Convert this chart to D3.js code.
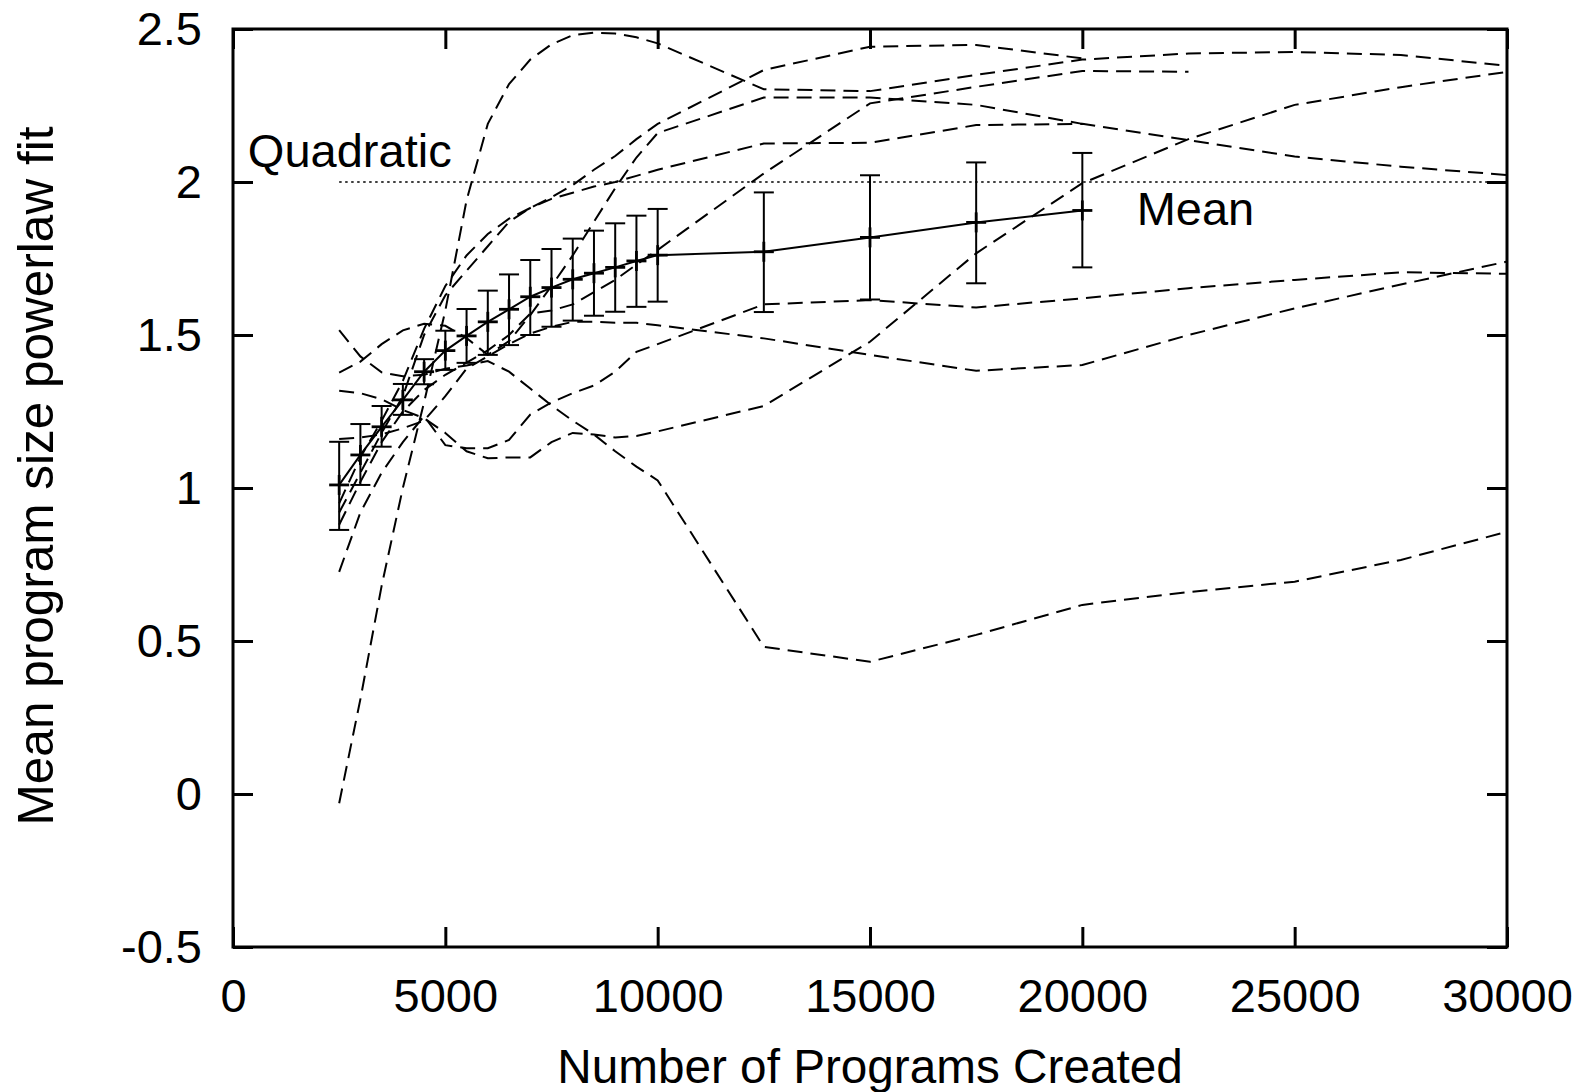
<!DOCTYPE html>
<html>
<head>
<meta charset="utf-8">
<script src="https://d3js.org/d3.v7.min.js"></script>
<style>
body { margin: 0; background: #fff; }
svg text { font-family: "Liberation Sans", Arial, Helvetica, sans-serif; font-size: 47px; fill: #000; }
.run { fill: none; stroke: #000; stroke-width: 2px; stroke-dasharray: 15,8; }
.meanline { fill: none; stroke: #000; stroke-width: 2px; }
.err { stroke: #000; stroke-width: 2px; }
.tick line { stroke: #000; stroke-width: 3px; }
</style>
</head>
<body>
<svg width="1583" height="1092"></svg>
<script>
// x positions (programs created) shared by every run
const xPts = [2500, 3000, 3500, 4000, 4500, 5000, 5500, 6000, 6500, 7000, 7500, 8000,
              8500, 9000, 9500, 10000, 12500, 15000, 17500, 20000, 22500, 25000, 27500, 30000];

// individual runs (dashed)
const runP = [-0.03, 0.31, 0.68, 1.00, 1.28, 1.58, 1.94, 2.19, 2.32, 2.40, 2.45, 2.48,
              2.488, 2.485, 2.473, 2.453, 2.303, 2.297, 2.35, 2.40, 2.42, 2.425, 2.415, 2.38];
const runU = [0.92, 1.05, 1.18, 1.30, 1.50, 1.63, 1.71, 1.79, 1.87, 1.915, 1.95, 1.99,
              2.04, 2.085, 2.14, 2.19, 2.366, 2.442, 2.448, 2.404, null, null, null, null];
const runW = [0.95, 1.10, 1.22, 1.35, 1.52, 1.66, 1.76, 1.83, 1.88, 1.915, 1.945, 1.965,
              1.985, 2.0, 2.02, 2.04, 2.126, 2.128, 2.186, 2.19, 2.137, 2.083, 2.05, 2.023];
const runV = [1.377, 1.413, 1.47, 1.515, 1.537, 1.53, 1.49, 1.435, 1.48, 1.565, 1.66, 1.76,
              1.87, 1.98, 2.08, 2.16, 2.276, 2.276, 2.252, 2.19, null, null, null, null];
const runG = [1.318, 1.31, 1.29, 1.255, 1.228, 1.18, 1.12, 1.097, 1.10, 1.10, 1.15, 1.18,
              1.175, 1.165, 1.17, 1.185, 1.268, 1.478, 1.767, 1.996, 2.14, 2.252, 2.31, 2.36];
const runB = [1.516, 1.43, 1.378, 1.365, 1.37, 1.39, 1.40, 1.415, 1.38, 1.325, 1.27, 1.22,
              1.175, 1.12, 1.07, 1.025, 0.481, 0.432, 0.52, 0.618, 0.66, 0.694, 0.765, 0.857];
const runE = [1.16, 1.165, 1.175, 1.195, 1.22, 1.30, 1.39, 1.43, 1.47, 1.505, 1.527, 1.543,
              1.543, 1.54, 1.54, 1.532, 1.489, 1.435, 1.383, 1.402, 1.50, 1.587, 1.665, 1.74];
const runF = [0.726, 0.92, 1.05, 1.15, 1.235, 1.14, 1.13, 1.13, 1.157, 1.24, 1.28, 1.31,
              1.335, 1.38, 1.445, 1.47, 1.60, 1.614, 1.59, 1.62, 1.653, 1.68, 1.705, 1.70];
const runQ = [0.88, 1.02, 1.15, 1.25, 1.32, 1.37, 1.41, 1.45, 1.50, 1.57, 1.58, 1.60,
              1.64, 1.68, 1.73, 1.778, 2.028, 2.257, 2.311, 2.363, 2.36, null, null, null];
const runs = [runP, runU, runW, runV, runG, runB, runE, runF, runQ];

// mean with error bars
const meanX  = [2500, 3000, 3500, 4000, 4500, 5000, 5500, 6000, 6500, 7000, 7500, 8000,
                8500, 9000, 9500, 10000, 12500, 15000, 17500, 20000];
const meanY  = [1.010, 1.108, 1.200, 1.288, 1.380, 1.449, 1.497, 1.543, 1.584, 1.625, 1.655, 1.682,
                1.702, 1.721, 1.742, 1.761, 1.772, 1.819, 1.868, 1.907];
const meanLo = [0.863, 1.010, 1.135, 1.239, 1.339, 1.386, 1.409, 1.435, 1.467, 1.500, 1.527, 1.547,
                1.563, 1.576, 1.592, 1.609, 1.575, 1.616, 1.669, 1.721];
const meanHi = [1.151, 1.209, 1.268, 1.340, 1.421, 1.514, 1.585, 1.645, 1.698, 1.745, 1.781, 1.815,
                1.841, 1.865, 1.890, 1.912, 1.966, 2.022, 2.064, 2.095];

const quadratic = 2;
const xTicks = [0, 5000, 10000, 15000, 20000, 25000, 30000];
const yTicks = [-0.5, 0, 0.5, 1, 1.5, 2, 2.5];

const svg = d3.select("svg");
const pLeft = 233, pRight = 1507, pTop = 29, pBottom = 947;

const x = d3.scaleLinear().domain([0, 30000]).range([pLeft, pRight]);
const y = d3.scaleLinear().domain([-0.5, 2.5]).range([pBottom, pTop]);

// axes, gnuplot style: inward ticks mirrored on all four sides
svg.append("g").attr("transform", `translate(0,${pBottom})`)
    .call(d3.axisBottom(x).tickValues(xTicks).tickSizeInner(-20).tickSizeOuter(0)
        .tickPadding(32).tickFormat(d => String(d)))
    .call(g => g.select(".domain").remove());
svg.append("g").attr("transform", `translate(0,${pTop})`)
    .call(d3.axisTop(x).tickValues(xTicks).tickSizeInner(-20).tickSizeOuter(0).tickFormat(""))
    .call(g => g.select(".domain").remove());
svg.append("g").attr("transform", `translate(${pLeft},0)`)
    .call(d3.axisLeft(y).tickValues(yTicks).tickSizeInner(-20).tickSizeOuter(0)
        .tickPadding(31).tickFormat(d => String(d)))
    .call(g => g.select(".domain").remove());
svg.append("g").attr("transform", `translate(${pRight},0)`)
    .call(d3.axisRight(y).tickValues(yTicks).tickSizeInner(-20).tickSizeOuter(0).tickFormat(""))
    .call(g => g.select(".domain").remove());

svg.selectAll("g").attr("font-family", null).attr("font-size", null);

// quadratic reference line
svg.append("line")
    .attr("x1", x(2500)).attr("x2", x(30000))
    .attr("y1", y(quadratic)).attr("y2", y(quadratic))
    .attr("stroke", "#000").attr("stroke-width", 1.6).attr("stroke-dasharray", "2.5,3.5");

// dashed runs
const line = d3.line()
    .defined(d => d[1] !== null)
    .x(d => x(d[0]))
    .y(d => y(d[1]));

svg.append("g").selectAll("path")
    .data(runs)
    .join("path")
    .attr("class", "run")
    .attr("d", r => line(xPts.map((v, i) => [v, r[i]])));

// mean line with error bars
const meanData = meanX.map((v, i) => ({x: v, y: meanY[i], lo: meanLo[i], hi: meanHi[i]}));

svg.append("path")
    .attr("class", "meanline")
    .attr("d", d3.line().x(d => x(d.x)).y(d => y(d.y))(meanData));

const eb = svg.append("g").selectAll("g").data(meanData).join("g");
eb.append("line").attr("class", "err")
    .attr("x1", d => x(d.x)).attr("x2", d => x(d.x))
    .attr("y1", d => y(d.lo)).attr("y2", d => y(d.hi));
eb.append("line").attr("class", "err")
    .attr("x1", d => x(d.x) - 10).attr("x2", d => x(d.x) + 10)
    .attr("y1", d => y(d.lo)).attr("y2", d => y(d.lo));
eb.append("line").attr("class", "err")
    .attr("x1", d => x(d.x) - 10).attr("x2", d => x(d.x) + 10)
    .attr("y1", d => y(d.hi)).attr("y2", d => y(d.hi));
// plus markers
eb.append("line").attr("stroke", "#000").attr("stroke-width", 2.8)
    .attr("x1", d => x(d.x) - 10).attr("x2", d => x(d.x) + 10)
    .attr("y1", d => y(d.y)).attr("y2", d => y(d.y));
eb.append("line").attr("stroke", "#000").attr("stroke-width", 2.8)
    .attr("x1", d => x(d.x)).attr("x2", d => x(d.x))
    .attr("y1", d => y(d.y) - 10).attr("y2", d => y(d.y) + 10);

// frame
svg.append("rect")
    .attr("x", pLeft).attr("y", pTop)
    .attr("width", pRight - pLeft).attr("height", pBottom - pTop)
    .attr("fill", "none").attr("stroke", "#000").attr("stroke-width", 3);

// labels
svg.append("text").attr("x", x(350)).attr("y", y(2.049)).text("Quadratic");
svg.append("text").attr("x", x(21280)).attr("y", y(1.86)).text("Mean");

svg.append("text")
    .attr("x", 870).attr("y", 1083)
    .attr("text-anchor", "middle")
    .style("font-size", "47.7px")
    .text("Number of Programs Created");
svg.append("text")
    .attr("transform", "translate(53,476) rotate(-90)")
    .attr("text-anchor", "middle")
    .style("font-size", "49.5px")
    .text("Mean program size powerlaw fit");
</script>
</body>
</html>
